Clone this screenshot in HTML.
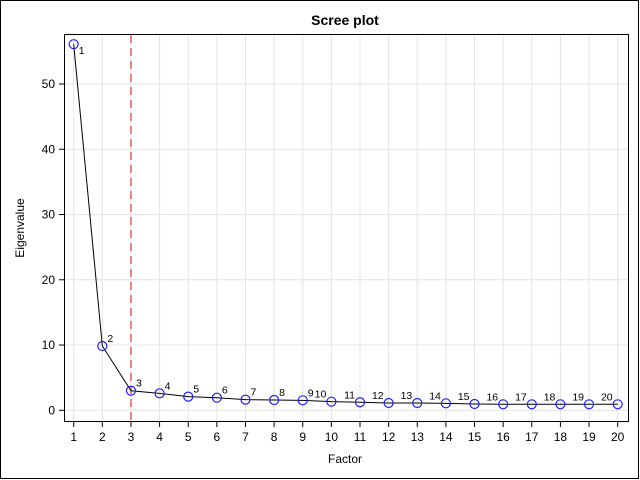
<!DOCTYPE html>
<html><head><meta charset="utf-8"><style>
body{margin:0;background:#fff}
svg{display:block;font-family:"Liberation Sans",sans-serif}
</style></head><body>
<svg width="640" height="480">
<rect x="0.5" y="0.5" width="638" height="478" fill="#fff" stroke="#000"/>
<text x="345" y="25" text-anchor="middle" font-size="14" font-weight="bold">Scree plot</text>
<g id="grid"></g>
<g id="axes"></g>
<g id="marks"></g>
<rect x="64.5" y="34.5" width="564" height="387" fill="none" stroke="#000"/>
<text x="345" y="463" text-anchor="middle" font-size="12">Factor</text>
<text x="24" y="228" text-anchor="middle" font-size="12" transform="rotate(-90 24 228)">Eigenvalue</text>
</svg>
<script>
const factors=[1,2,3,4,5,6,7,8,9,10,11,12,13,14,15,16,17,18,19,20];
const eigenvalues=[56.1,9.85,3.0,2.6,2.09,1.93,1.63,1.58,1.53,1.32,1.23,1.12,1.12,1.07,0.97,0.92,0.92,0.92,0.92,0.92];
const yTicks=[0,10,20,30,40,50];
const cutoff=3;
const NS="http://www.w3.org/2000/svg";
const xs=f=>73.7+(f-1)*28.63;
const ys=v=>410.3-v*6.526;
function mk(t,a,p){const e=document.createElementNS(NS,t);for(const k in a)e.setAttribute(k,a[k]);p.appendChild(e);return e;}
const grid=document.getElementById('grid'),axes=document.getElementById('axes'),marks=document.getElementById('marks');
factors.forEach(f=>{
 const x=xs(f);
 const g=mk('line',{x1:x,x2:x,y1:35,y2:421,stroke:'#e4e4e4'},grid);
 
 const t=mk('line',{x1:x,x2:x,y1:422,y2:427,stroke:'#000'},axes);
 
 const l=mk('text',{x:x,y:441,'text-anchor':'middle','font-size':12},axes);l.textContent=f;
 
});
yTicks.forEach(v=>{
 const y=ys(v);
 const g=mk('line',{x1:65,x2:628,y1:y,y2:y,stroke:'#e4e4e4'},grid);
 
 const t=mk('line',{x1:59,x2:64,y1:y,y2:y,stroke:'#000'},axes);
 
 const l=mk('text',{x:55,y:y+4,'text-anchor':'end','font-size':12},axes);l.textContent=v;
 
});
const ref=mk('line',{x1:xs(cutoff),x2:xs(cutoff),y1:35,y2:421,stroke:'#e06060','stroke-width':1.5,'stroke-dasharray':'8,5'},marks);

const pts=factors.map((f,i)=>xs(f)+','+ys(eigenvalues[i])).join(' ');
const pl=mk('polyline',{points:pts,fill:'none',stroke:'#000','stroke-width':1},marks);

factors.forEach((f,i)=>{
 const x=xs(f),y=ys(eigenvalues[i]);
 const c=mk('circle',{cx:x,cy:y,r:4.5,fill:'none',stroke:'#2020ff','stroke-width':1.2},marks);
 
 const two=String(f).length>1;
 const ly=i===0?y+10:y-4;
 const l=mk('text',{x:two?x-5:x+5,y:ly,'font-size':10.5,'text-anchor':two?'end':'start'},marks);l.textContent=f;
 
});
</script>
</body></html>
